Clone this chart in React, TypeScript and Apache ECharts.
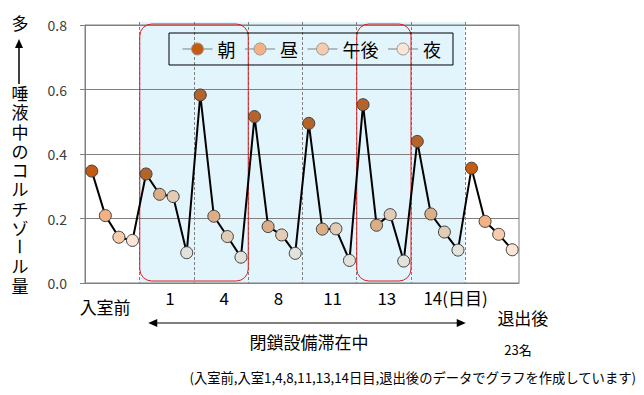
import React, { useEffect, useRef } from 'react';
import * as echarts from 'echarts';

// ---- data ----
const groups = ['入室前', '1', '4', '8', '11', '13', '14(日目)', '退出後'];
const times = ['朝', '昼', '午後', '夜'];
const morning = [0.347, 0.338, 0.583, 0.516, 0.495, 0.553, 0.439, 0.356];
const noon = [0.209, 0.275, 0.207, 0.175, 0.167, 0.179, 0.214, 0.191];
const afternoon = [0.142, 0.268, 0.144, 0.149, 0.168, 0.212, 0.158, 0.151];
const night = [0.132, 0.094, 0.080, 0.092, 0.070, 0.068, 0.102, 0.103];
const yTicks = [0, 0.2, 0.4, 0.6, 0.8];
const yTitleTop = '多';
const yTitle = '唾液中のコルチゾール量';
const stayLabel = '閉鎖設備滞在中';
const countLabel = '23名';
const note = '(入室前,入室1,4,8,11,13,14日目,退出後のデータでグラフを作成しています)';

// ---- styles ----
const outerColors = ['#C55A11', '#F4B183', '#F8CBAD', '#FBE5D6'];
const innerColors = ['#B4642A', '#DCAE88', '#E2CCB5', '#E1E2DC'];
const FONT = "'Noto Sans CJK JP', 'Noto Sans', sans-serif";

const valuesByTime = [morning, noon, afternoon, night];
const nG = groups.length;
const nT = times.length;
const categories: string[] = [];
const sequence: number[] = [];
for (let g = 0; g < nG; g++) {
  for (let t = 0; t < nT; t++) {
    categories.push(groups[g] + '-' + times[t]);
    sequence.push(valuesByTime[t][g]);
  }
}
const isStay = (g: number) => g > 0 && g < nG - 1;

export default function App() {
  const ref = useRef<HTMLDivElement>(null);
  useEffect(() => {
    document.body.style.margin = '0';
    if (!ref.current) return;
    const chart = echarts.init(ref.current, undefined, { renderer: 'svg' });

    const pointSeries = times.map((name, t) => ({
      name,
      type: 'line',
      z: 3,
      symbol: 'circle',
      symbolSize: 12,
      showSymbol: true,
      showAllSymbol: true,
      lineStyle: { width: 0, opacity: 0 },
      itemStyle: { color: outerColors[t], borderColor: '#404040', borderWidth: 1 },
      silent: true,
      data: categories.map((_, i) => {
        const g = Math.floor(i / nT);
        if (i % nT !== t) return '-';
        return {
          value: valuesByTime[t][g],
          itemStyle: { color: isStay(g) ? innerColors[t] : outerColors[t] },
        };
      }),
    }));

    const option: any = {
      animation: false,
      textStyle: { fontFamily: FONT },
      grid: {
        left: 85, right: 125, top: 25, bottom: 112,
        show: true, borderColor: '#808080', borderWidth: 1,
        backgroundColor: 'transparent',
        outerBoundsMode: 'none',
        containLabel: false,
      },
      legend: {
        data: times,
        left: 169,
        top: 33,
        orient: 'horizontal',
        itemWidth: 30,
        itemHeight: 15,
        itemGap: 9,
        padding: [7, 12, 7, 13],
        borderColor: '#000',
        borderWidth: 1,
        backgroundColor: 'transparent',
        selectedMode: false,
        lineStyle: { color: '#808080', width: 1, opacity: 1 },
        itemStyle: { borderColor: '#9a9a9a', borderWidth: 1 },
        textStyle: { fontSize: 18, color: '#000', fontFamily: FONT },
      },
      xAxis: [
        {
          type: 'category',
          data: categories,
          boundaryGap: true,
          axisLine: { show: true, lineStyle: { color: '#808080' } },
          axisTick: { show: false },
          axisLabel: { show: false, interval: 0 },
          splitLine: { show: false },
        },
        {
          type: 'value',
          min: 0,
          max: nG * nT,
          position: 'bottom',
          axisLine: { show: false },
          axisTick: { show: false },
          splitLine: { show: false },
          axisLabel: {
            customValues: groups.map((_, g) => g * nT + nT / 2),
            margin: 6,
            color: '#000',
            formatter: (v: number) => {
              const g = Math.round((v - nT / 2) / nT);
              const key = g === 0 ? 'a' : g === nG - 2 ? 'c' : g === nG - 1 ? 'd' : 'n';
              return '{' + key + '|' + groups[g] + '}';
            },
            rich: {
              n: { fontSize: 17, fontFamily: FONT, color: '#000', padding: [0, 0, 0, 7] },
              a: { fontSize: 17, fontFamily: FONT, color: '#000', padding: [9, 14, 0, 0] },
              c: { fontSize: 17, fontFamily: FONT, color: '#000', padding: [0, 0, 0, 36] },
              d: { fontSize: 17, fontFamily: FONT, color: '#000', padding: [20, 0, 0, 62] },
            },
          },
        },
      ],
      yAxis: {
        type: 'value',
        min: yTicks[0],
        max: yTicks[yTicks.length - 1],
        interval: 0.2,
        axisLine: { show: true, lineStyle: { color: '#808080' } },
        axisTick: { show: true, length: 5, lineStyle: { color: '#808080' } },
        splitLine: { show: true, lineStyle: { color: '#808080', width: 1 } },
        axisLabel: {
          fontSize: 14,
          color: '#404040',
          margin: 18,
          fontFamily: FONT,
          formatter: (v: number) => v.toFixed(1),
        },
      },
      series: [
        {
          name: 'line',
          type: 'line',
          z: 2,
          data: sequence,
          showSymbol: false,
          symbol: 'none',
          silent: true,
          lineStyle: { color: '#000', width: 2 },
        },
        ...pointSeries,
      ],
    };
    chart.setOption(option);

    // decorations positioned through the axes
    const px = (v: number) => chart.convertToPixel({ xAxisIndex: 1 }, v) as number;
    const py = (v: number) => chart.convertToPixel({ yAxisIndex: 0 }, v) as number;
    const top = py(yTicks[yTicks.length - 1]) - 3;
    const bottom = py(0);
    const stayStart = nT;
    const stayEnd = (nG - 1) * nT;
    const graphics: any[] = [];
    graphics.push({
      type: 'rect', z: -1, silent: true,
      shape: { x: px(stayStart), y: top, width: px(stayEnd) - px(stayStart), height: bottom - top },
      style: { fill: '#E2F4FC' },
    });
    for (let g = 1; g < nG; g++) {
      const x = Math.round(px(g * nT)) + 0.5;
      graphics.push({
        type: 'line', z: 1, silent: true,
        shape: { x1: x, y1: top, x2: x, y2: bottom },
        style: { stroke: '#808080', lineWidth: 1, lineDash: [3, 2] },
      });
    }
    const redBoxes = [[1, 3], [5, 6]];
    redBoxes.forEach(([a, b]) => {
      const x1 = px(a * nT);
      const x2 = px(b * nT);
      graphics.push({
        type: 'rect', z: 1, silent: true,
        shape: { x: x1 + 0.5, y: top + 2, width: x2 - x1, height: bottom - top - 4, r: 12 },
        style: { fill: 'none', stroke: '#DD1E1E', lineWidth: 1 },
      });
    });
    // double arrow under the axis
    const ay = bottom + 40;
    const ax1 = px(stayStart) + 9;
    const ax2 = px(stayEnd) + 1;
    graphics.push({
      type: 'line', silent: true,
      shape: { x1: ax1 + 4, y1: ay, x2: ax2 - 4, y2: ay },
      style: { stroke: '#000', lineWidth: 1 },
    });
    graphics.push({
      type: 'polygon', silent: true,
      shape: { points: [[ax1, ay], [ax1 + 9, ay - 4], [ax1 + 9, ay + 4]] },
      style: { fill: '#000' },
    });
    graphics.push({
      type: 'polygon', silent: true,
      shape: { points: [[ax2, ay], [ax2 - 9, ay - 4], [ax2 - 9, ay + 4]] },
      style: { fill: '#000' },
    });
    graphics.push({
      type: 'text', silent: true,
      x: (ax1 + ax2) / 2 + 2, y: ay + 18,
      style: { text: stayLabel, fontSize: 17, fontFamily: FONT, fill: '#000', align: 'center', verticalAlign: 'middle' },
    });
    graphics.push({
      type: 'text', silent: true,
      x: 518, y: 349,
      style: { text: countLabel, fontSize: 13, fontFamily: FONT, fill: '#000', align: 'center', verticalAlign: 'middle' },
    });
    graphics.push({
      type: 'text', silent: true,
      x: 636, y: 377,
      style: { text: note, fontSize: 13.3, fontFamily: FONT, fill: '#000', align: 'right', verticalAlign: 'middle' },
    });
    // vertical y-axis title
    const tx = 20;
    const step = 19.25;
    const firstY = 92.5;
    graphics.push({
      type: 'text', silent: true, x: tx, y: 22,
      style: { text: yTitleTop, fontSize: 17, fontFamily: FONT, fill: '#000', align: 'center', verticalAlign: 'middle' },
    });
    graphics.push({
      type: 'line', silent: true,
      shape: { x1: tx - 1, y1: 46, x2: tx - 1, y2: 84 },
      style: { stroke: '#000', lineWidth: 1.5 },
    });
    graphics.push({
      type: 'polygon', silent: true,
      shape: { points: [[tx - 1, 39], [tx - 5, 48], [tx + 3, 48]] },
      style: { fill: '#000' },
    });
    // split the title at the long-vowel mark, which is turned upright in vertical writing
    const chars = Array.from(yTitle);
    let start = 0;
    const blocks: { text: string; idx: number; rotate: boolean }[] = [];
    chars.forEach((ch, i) => {
      if (ch === 'ー') {
        if (i > start) blocks.push({ text: chars.slice(start, i).join('\n'), idx: start, rotate: false });
        blocks.push({ text: ch, idx: i, rotate: true });
        start = i + 1;
      }
    });
    if (start < chars.length) blocks.push({ text: chars.slice(start).join('\n'), idx: start, rotate: false });
    blocks.forEach((b) => {
      if (b.rotate) {
        graphics.push({
          type: 'text', silent: true,
          x: tx, y: firstY + b.idx * step,
          rotation: -Math.PI / 2,
          style: { text: b.text, fontSize: 17, fontFamily: FONT, fill: '#000', align: 'center', verticalAlign: 'middle' },
        });
      } else {
        graphics.push({
          type: 'text', silent: true,
          x: tx, y: firstY + b.idx * step - step / 2,
          style: { text: b.text, fontSize: 17, lineHeight: step, fontFamily: FONT, fill: '#000', align: 'center', verticalAlign: 'top' },
        });
      }
    });
    chart.setOption({ graphic: graphics });

    return () => chart.dispose();
  }, []);
  return <div ref={ref} style={{ width: 644, height: 395 }} />;
}
